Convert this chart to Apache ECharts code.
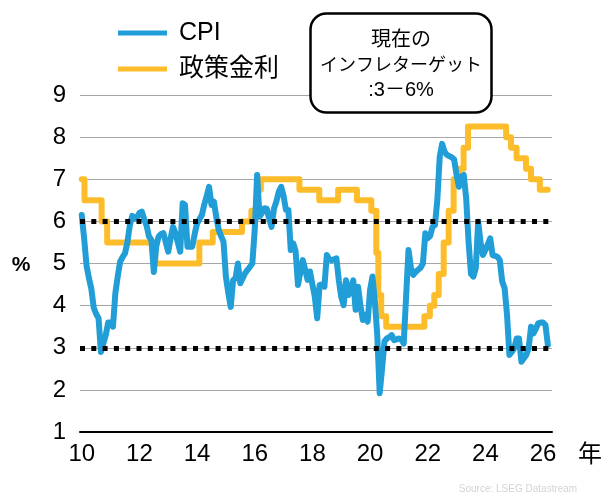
<!DOCTYPE html>
<html>
<head>
<meta charset="utf-8">
<script src="https://cdn.jsdelivr.net/npm/echarts@6/dist/echarts.min.js"></script>
<style>
  html, body { margin: 0; padding: 0; background: #fff; }
  #chart { width: 605px; height: 493px; }
</style>
</head>
<body>
<div id="chart"></div>
<script>
// South Africa: headline CPI (y/y, %) and SARB repo rate (%)

// Monthly CPI, first value at the start of 2010
const cpiStartYear = 2010;
const cpi = [
  6.15, 5.6, 4.95, 4.65, 4.4, 3.95, 3.8, 3.7, 2.9, 3.1, 3.3, 3.6,      // 2010
  3.6, 3.5, 4.3, 4.7, 5.05, 5.15, 5.24, 5.5, 5.9, 6.13, 6.07, 6.1,     // 2011
  6.2, 6.23, 6.05, 5.9, 5.64, 5.56, 4.8, 5.4, 5.64, 5.7, 5.72, 5.5,    // 2012
  5.28, 5.6, 5.87, 5.72, 5.5, 5.28, 6.43, 6.39, 5.4, 5.4, 5.4, 5.7,    // 2013
  5.95, 6.05, 6.15, 6.4, 6.6, 6.82, 6.39, 6.47, 6.1, 5.8, 5.65, 5.52,  // 2014
  4.69, 4.3, 3.97, 4.6, 4.65, 5.0, 4.53, 4.65, 4.77, 4.85, 4.92, 5.0,  // 2015
  5.8, 7.1, 6.11, 6.2, 6.31, 6.3, 6.07, 5.87, 6.3, 6.47, 6.7, 6.82,    // 2016
  6.6, 6.27, 6.27, 5.32, 5.48, 5.3, 4.49, 4.8, 5.08, 4.85, 4.61, 4.81, // 2017
  4.5, 4.21, 3.7, 4.49, 4.5, 4.45, 5.2, 5.1, 5.08, 5.1, 5.12, 4.6,     // 2018
  4.21, 4.01, 4.6, 4.25, 4.4, 4.6, 3.9, 4.45, 4.0, 3.66, 3.78, 3.62,   // 2019
  4.37, 4.69, 4.1, 3.3, 1.92, 2.5, 3.15, 3.22, 3.25, 3.3, 3.18, 3.2,   // 2020
  3.22, 3.2, 3.1, 4.21, 5.32, 4.9, 4.73, 4.8, 4.85, 4.9, 5.0, 5.72,    // 2021
  5.6, 5.65, 5.87, 5.91, 6.51, 7.54, 7.84, 7.65, 7.58, 7.55, 7.52, 7.47, // 2022
  7.1, 6.82, 7.06, 7.1, 6.55, 5.52, 4.75, 4.69, 4.89, 5.99, 5.5, 5.2,  // 2023
  5.32, 5.45, 5.6, 5.2, 5.18, 5.16, 5.08, 4.57, 4.41, 3.78, 2.83, 2.9, // 2024
  2.99, 3.22, 3.22, 2.67, 2.75, 2.83, 2.99, 3.5, 3.34, 3.45, 3.58, 3.6, // 2025
  3.6, 3.54, 3.07                                                      // 2026
];

// Repo rate: effective date of each change and the new level
const rateDates = [
  '2010-01-01', '2010-02-05', '2010-09-10', '2010-11-19', '2012-07-20',
  '2014-01-30', '2014-07-18', '2015-07-24', '2015-11-20', '2016-01-29',
  '2016-03-18', '2017-07-21', '2018-03-29', '2018-11-23', '2019-07-19',
  '2020-01-17', '2020-03-20', '2020-04-15', '2020-05-22', '2020-07-24',
  '2021-11-19', '2022-01-28', '2022-03-25', '2022-05-20', '2022-07-22',
  '2022-09-23', '2022-11-25', '2023-01-27', '2023-03-31', '2023-05-26',
  '2024-09-20', '2024-11-22', '2025-01-31', '2025-05-30', '2025-08-01',
  '2025-11-21', '2026-03-01'
];
const rateValues = [
  7.0, 6.5, 6.0, 5.5, 5.0,
  5.5, 5.75, 6.0, 6.25, 6.75,
  7.0, 6.75, 6.5, 6.75, 6.5,
  6.25, 5.25, 4.25, 3.75, 3.5,
  3.75, 4.0, 4.25, 4.75, 5.5,
  6.25, 7.0, 7.25, 7.75, 8.25,
  8.0, 7.75, 7.5, 7.25, 7.0,
  6.75, 6.75
];

// Inflation target band (%)
const targetBand = [3, 6];

// Axis ticks
const yearTicks = [2010, 2012, 2014, 2016, 2018, 2020, 2022, 2024, 2026];
const yMin = 1, yMax = 9, yStep = 1;

function toDecimalYear(s) {
  const [y, m, d] = s.split('-').map(Number);
  const start = Date.UTC(y, 0, 1), end = Date.UTC(y + 1, 0, 1);
  return y + (Date.UTC(y, m - 1, d) - start) / (end - start);
}

const cpiData = cpi.map((v, i) => [cpiStartYear + i / 12, v]);
const rateData = rateDates.map((d, i) => [toDecimalYear(d), rateValues[i]]);

const latin = "'Liberation Sans', Arial, 'Noto Sans CJK JP', sans-serif";
const cjk = "'Noto Sans CJK JP', 'Liberation Sans', sans-serif";

const chart = echarts.init(document.getElementById('chart'), null, { renderer: 'canvas' });

chart.setOption({
  animation: false,
  backgroundColor: '#fff',
  grid: { left: 80, right: 53, top: 95, bottom: 61, containLabel: false },
  legend: {
    data: ['CPI', '政策金利'],
    orient: 'vertical',
    left: 118,
    top: 19,
    padding: 0,
    itemGap: 8,
    itemWidth: 49,
    itemHeight: 5,
    icon: 'rect',
    selectedMode: false,
    textStyle: {
      fontSize: 25,
      lineHeight: 28,
      color: '#000',
      fontFamily: latin,
      padding: [0, 0, 0, 7]
    }
  },
  xAxis: {
    type: 'value',
    min: 2009.94,
    max: 2026.31,
    axisLine: { show: true, onZero: false, lineStyle: { color: '#000', width: 2 } },
    axisTick: { show: false },
    splitLine: { show: false },
    axisLabel: {
      customValues: yearTicks,
      formatter: v => String(Math.round(v) - 2000),
      fontSize: 24,
      color: '#000',
      fontFamily: latin,
      margin: 10
    }
  },
  yAxis: {
    type: 'value',
    min: yMin,
    max: yMax,
    interval: yStep,
    axisLine: { show: false },
    axisTick: { show: false },
    splitLine: { show: true, lineStyle: { color: '#a6a6a6', width: 1 } },
    axisLabel: { fontSize: 24, color: '#000', fontFamily: latin, margin: 14 }
  },
  series: [
    {
      name: '政策金利',
      type: 'line',
      step: 'end',
      data: rateData,
      showSymbol: false,
      symbol: 'none',
      color: '#fdbd2b',
      lineStyle: { width: 6, color: '#fdbd2b', cap: 'round', join: 'round' },
      z: 2
    },
    {
      name: 'CPI',
      type: 'line',
      data: cpiData,
      showSymbol: false,
      symbol: 'none',
      color: '#219dd7',
      lineStyle: { width: 6, color: '#219dd7', cap: 'round', join: 'round' },
      z: 3,
      markLine: {
        silent: true,
        symbol: ['none', 'none'],
        label: { show: false },
        lineStyle: { color: '#000', width: 5, type: [5, 6.3], cap: 'butt' },
        emphasis: { disabled: true },
        data: targetBand.map(v => ({ yAxis: v }))
      }
    }
  ],
  graphic: [
    { type: 'text', x: 21, y: 265, style: { text: '%', fontSize: 21, fontWeight: 'bold', fill: '#000', fontFamily: latin, align: 'center', verticalAlign: 'middle' } },
    { type: 'text', x: 590, y: 453, style: { text: '年', fontSize: 24, fill: '#000', fontFamily: cjk, align: 'center', verticalAlign: 'middle' } },
    {
      type: 'rect', z: 10,
      shape: { x: 310.5, y: 13.5, width: 181, height: 99, r: 16 },
      style: { fill: '#fff', stroke: '#000', lineWidth: 2.5 }
    },
    { type: 'text', z: 11, x: 401, y: 38.5, style: { text: '現在の', fontSize: 20, fill: '#000', fontFamily: cjk, align: 'center', verticalAlign: 'middle' } },
    { type: 'text', z: 11, x: 401, y: 64.5, style: { text: 'インフレターゲット', fontSize: 18, fill: '#000', fontFamily: cjk, align: 'center', verticalAlign: 'middle' } },
    { type: 'text', z: 11, x: 401, y: 90, style: { text: ':3－6%', fontSize: 20, fill: '#000', fontFamily: latin, align: 'center', verticalAlign: 'middle' } },
    { type: 'text', x: 518, y: 489, style: { text: 'Source: LSEG Datastream', fontSize: 10, fill: '#d4d4d4', fontFamily: latin, align: 'center', verticalAlign: 'middle' } }
  ]
});
</script>
</body>
</html>
